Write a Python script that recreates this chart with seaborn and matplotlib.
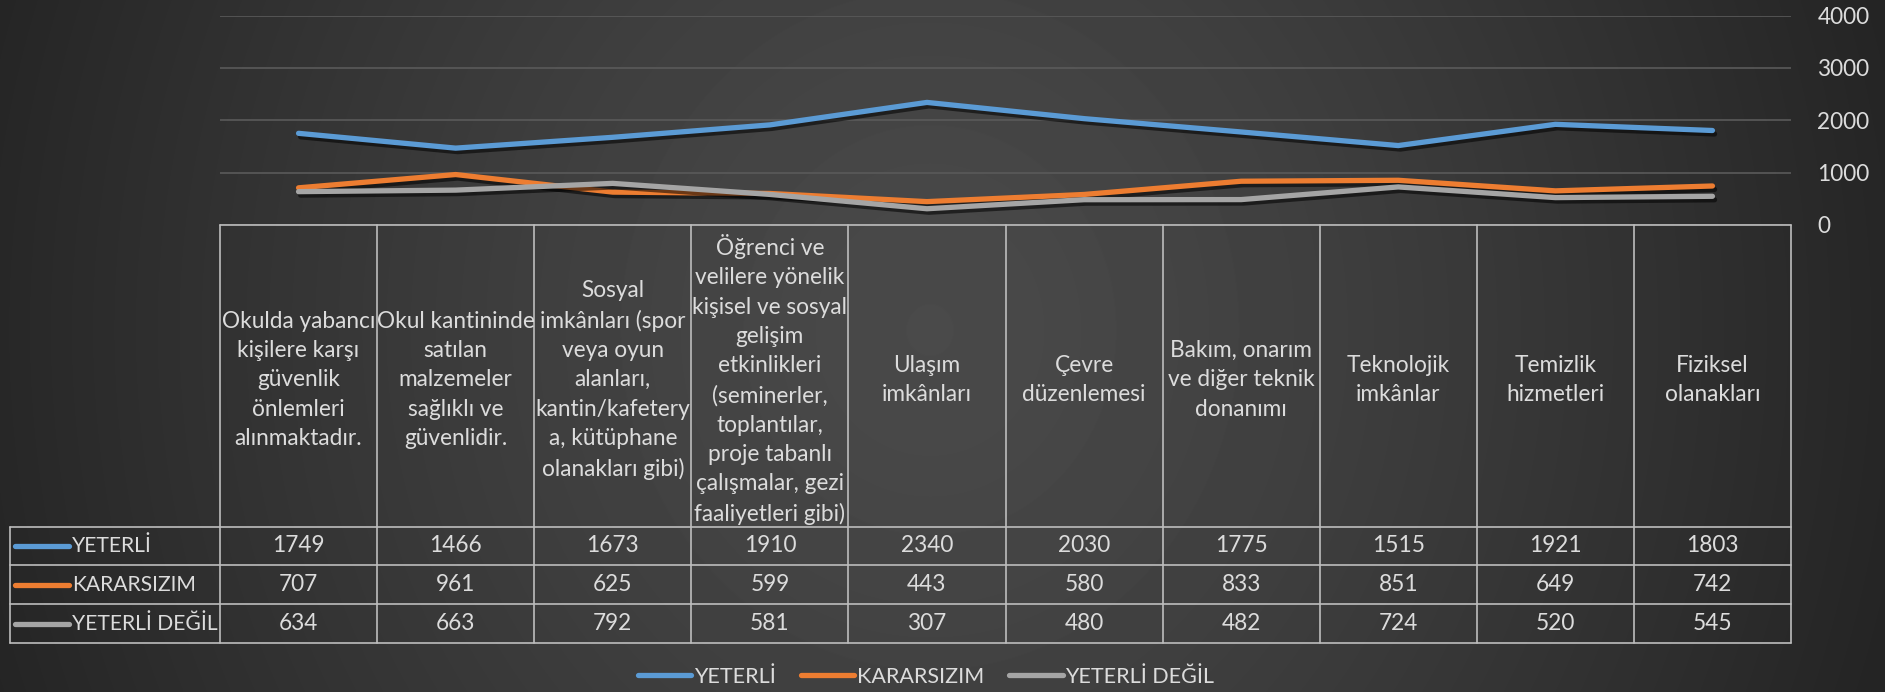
import numpy as np
import pandas as pd
import matplotlib.pyplot as plt
import matplotlib.patheffects as pe
import seaborn as sns

# data
categories = [
    "Okulda yabancı\nkişilere karşı\ngüvenlik\nönlemleri\nalınmaktadır.",
    "Okul kantininde\nsatılan\nmalzemeler\nsağlıklı ve\ngüvenlidir.",
    "Sosyal\nimkânları (spor\nveya oyun\nalanları,\nkantin/kafetery\na, kütüphane\nolanakları gibi)",
    "Öğrenci ve\nvelilere yönelik\nkişisel ve sosyal\ngelişim\netkinlikleri\n(seminerler,\ntoplantılar,\nproje tabanlı\nçalışmalar, gezi\nfaaliyetleri gibi)",
    "Ulaşım\nimkânları",
    "Çevre\ndüzenlemesi",
    "Bakım, onarım\nve diğer teknik\ndonanımı",
    "Teknolojik\nimkânlar",
    "Temizlik\nhizmetleri",
    "Fiziksel\nolanakları",
]
series_names = ["YETERLİ", "KARARSIZIM", "YETERLİ DEĞİL"]
yeterli = [1749, 1466, 1673, 1910, 2340, 2030, 1775, 1515, 1921, 1803]
kararsizim = [707, 961, 625, 599, 443, 580, 833, 851, 649, 742]
yeterli_degil = [634, 663, 792, 581, 307, 480, 482, 724, 520, 545]
y_ticks = [0, 1000, 2000, 3000, 4000]
colors = ["#5B9BD5", "#ED7D31", "#A5A5A5"]

values = [yeterli, kararsizim, yeterli_degil]
rows = []
for name, vals in zip(series_names, values):
    for i, v in enumerate(vals):
        rows.append({"pos": i, "value": v, "series": name})
df = pd.DataFrame(rows)

sns.set_style("dark")
plt.rcParams["font.family"] = ["Lato", "DejaVu Sans"]
txt_color = "#DCDCDC"
grid_color = "#BDBDBD"
fs = 16.3

W, H = 1885, 692
fig = plt.figure(figsize=(W / 100, H / 100), dpi=100)


def fax(x0, y0, x1, y1, **kw):
    return fig.add_axes([x0 / W, 1 - y1 / H, (x1 - x0) / W, (y1 - y0) / H], **kw)


# gradient background
bg = fig.add_axes([0, 0, 1, 1], zorder=-10)
yy, xx = np.mgrid[0:H, 0:W]
d = np.sqrt(((xx - 930) / 1000) ** 2 + ((yy - 330) / 1100) ** 2)
d = np.clip(d, 0, 1)
shade = 0x4a - (0x4a - 0x24) * d ** 1.3
bg.imshow(shade, cmap="gray", vmin=0, vmax=255, aspect="auto", interpolation="bilinear")
bg.axis("off")

# line chart
left, right = 220, 1791
top, zero = 15.6, 224.8
ax = fax(left, top, right, zero)
ax.set_facecolor("none")
sns.lineplot(data=df, x="pos", y="value", hue="series", palette=colors,
             linewidth=3.8, ax=ax, sort=False)
for line in ax.lines:
    line.set_solid_capstyle("round")
    line.set_path_effects([pe.SimpleLineShadow(offset=(1.5, -2.5), alpha=0.55, shadow_color="black"),
                           pe.Normal()])
ax.set_xlim(-0.5, 9.5)
ax.set_ylim(0, 4000)
ax.set_yticks(y_ticks)
ax.set_xticks([])
ax.yaxis.tick_right()
ax.tick_params(axis="y", length=0, pad=19, labelsize=fs, labelcolor=txt_color)
ax.set_xlabel("")
ax.set_ylabel("")
ax.grid(axis="y", color="#5A5A5A", linewidth=1.2)
ax.grid(axis="x", visible=False)
for s in ax.spines.values():
    s.set_visible(False)
handles, labels = ax.get_legend_handles_labels()
ax.get_legend().remove()

# data table
table_bottom = 643
header_h = 301.8
row_h = (table_bottom - zero - header_h) / 3
col_w = (right - left) / 10
tax = fax(left, zero, right, table_bottom)
tax.set_facecolor("none")
tax.set_xlim(-0.5, 9.5)
tax.set_ylim(table_bottom - zero, 0)
tax.axis("off")
lab_left = -0.5 - (left - 9.6) / col_w
total_h = table_bottom - zero
lk = dict(color=grid_color, linewidth=1.2, clip_on=False)
tax.plot([-0.5, 9.5], [0, 0], **lk)
for k in range(11):
    tax.plot([-0.5 + k, -0.5 + k], [0, total_h], **lk)
for r in range(4):
    yv = header_h + r * row_h
    tax.plot([lab_left, 9.5], [yv, yv], **lk)
tax.plot([lab_left, lab_left], [header_h, total_h], **lk)

for i, cat in enumerate(categories):
    tax.text(i, header_h / 2 + 4, cat, ha="center", va="center", multialignment="center",
             fontsize=fs, color=txt_color, linespacing=1.49)

for r, (name, vals, c) in enumerate(zip(series_names, values, colors)):
    yc = header_h + (r + 0.5) * row_h
    for i, v in enumerate(vals):
        tax.text(i, yc, str(v), ha="center", va="center", fontsize=fs, color=txt_color)
    k0 = -0.5 - (left - 15) / col_w
    k1 = -0.5 - (left - 69) / col_w
    tax.plot([k0, k1], [yc, yc], color=c, linewidth=3.8, solid_capstyle="round", clip_on=False)
    tax.text(-0.5 - (left - 72) / col_w, yc, name, ha="left", va="center",
             fontsize=15.2, color=txt_color, clip_on=False)

# legend
for h in handles:
    h.set_path_effects([])
fig.legend(handles, labels, loc="center", bbox_to_anchor=(926 / W, 1 - 677 / H), ncol=3,
           frameon=False, fontsize=15.5, labelcolor=txt_color, handlelength=2.5,
           handletextpad=0.12, columnspacing=1.15)

fig.savefig("out.png", dpi=100)
